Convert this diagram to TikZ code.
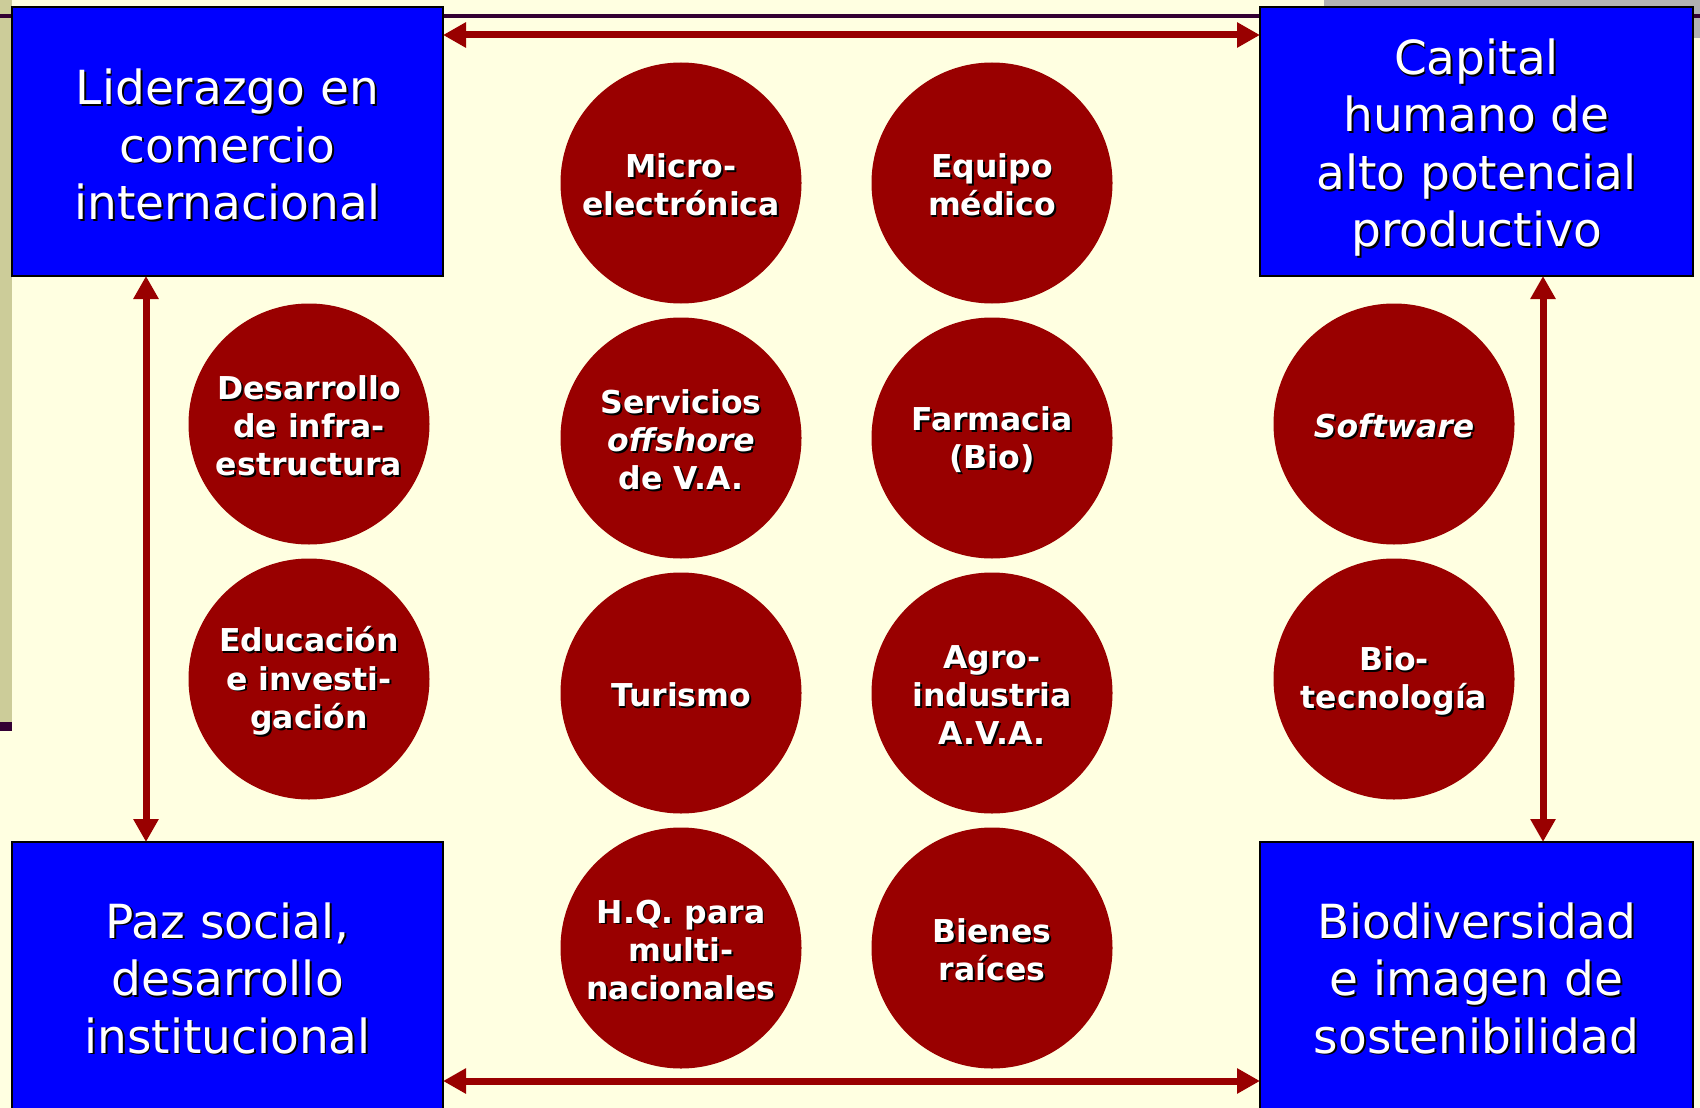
\documentclass[tikz,border=0pt]{standalone}
\usepackage{fontspec}
\setmainfont{DejaVu Sans}
\usetikzlibrary{arrows.meta}
\definecolor{cream}{HTML}{FFFFE1}
\definecolor{khaki}{HTML}{CCCC99}
\definecolor{darkpurple}{HTML}{330033}
\definecolor{greyband}{HTML}{B2B2B2}
\definecolor{wine}{HTML}{990000}
\definecolor{pureblue}{HTML}{0000FF}
\def\lowamt{0pt}
\newcommand\shd[1]{\leavevmode\raisebox{-\lowamt}[\height][\depth]{\rlap{\kern1.8pt\raisebox{-1.8pt}{\color{black}#1}}#1}}
\newcommand\boxfont[1]{\fontsize{47}{57.5}\selectfont\def\lowamt{#1}}
\newcommand\ballfont{\fontsize{31.5}{38.2}\selectfont\bfseries\def\lowamt{2.7pt}}
\tikzset{
  bigbox/.style={rectangle, draw=black, line width=2pt, fill=pureblue, text=white,
    minimum width=431pt, minimum height=269pt, inner sep=0pt, outer sep=0pt,
    align=center, font=\boxfont{4pt}},
  ball/.style={circle, fill=wine, text=white, minimum size=241pt, inner sep=0pt,
    align=center, font=\ballfont},
  link/.style={draw=wine, line width=7pt,
    {Triangle[width=24pt,length=23pt]}-{Triangle[width=24pt,length=23pt]}}
}
\begin{document}
\begin{tikzpicture}[x=1pt,y=-1pt]
\clip (0,0) rectangle (1700,1108);
\fill[cream] (0,0) rectangle (1700,1108);
\fill[khaki] (0,0) rectangle (12,722);
\fill[darkpurple] (0,722) rectangle (12,731);
\fill[greyband] (1324,0) rectangle (1700,14);
\fill[greyband] (1690,0) rectangle (1700,38);
\fill[darkpurple] (0,14) rectangle (1700,18);

\node[bigbox, anchor=north west] (tl) at (12,7)
  {\shd{Liderazgo en}\\\shd{comercio}\\\shd{internacional}};
\node[bigbox, anchor=north west, minimum width=433pt, font=\boxfont{7pt}] (tr) at (1260,7)
  {\shd{Capital}\\\shd{humano de}\\\shd{alto potencial}\\\shd{productivo}};
\node[bigbox, anchor=north west, minimum height=274pt, font=\boxfont{0pt}] (bl) at (12,842)
  {\shd{Paz social,}\\\shd{desarrollo}\\\shd{institucional}};
\node[bigbox, anchor=north west, minimum width=433pt, minimum height=274pt, font=\boxfont{0pt}] (br) at (1260,842)
  {\shd{Biodiversidad}\\\shd{e imagen de}\\\shd{sostenibilidad}};

\node[ball] (micro) at (681,183) {\shd{Micro-}\\\shd{electrónica}};
\node[ball] (equipo) at (992,183) {\shd{Equipo}\\\shd{médico}};
\node[ball] (desarrollo) at (309,424) {\shd{Desarrollo}\\\shd{de infra-}\\\shd{estructura}};
\node[ball] (servicios) at (681,438) {\shd{Servicios}\\\shd{\textit{offshore}}\\\shd{de V.A.}};
\node[ball] (farmacia) at (992,438) {\shd{Farmacia}\\\shd{(Bio)}};
\node[ball] (software) at (1394,424) {\shd{\textit{Software}}};
\node[ball] (educacion) at (309,679) {\shd{Educación}\\\shd{e investi-}\\\shd{gación}};
\node[ball] (turismo) at (681,693) {\shd{Turismo}};
\node[ball] (agro) at (992,693) {\shd{Agro-}\\\shd{industria}\\\shd{A.V.A.}};
\node[ball] (biotec) at (1394,679) {\shd{Bio-}\\\shd{tecnología}};
\node[ball] (hq) at (681,948) {\shd{H.Q. para}\\\shd{multi-}\\\shd{nacionales}};
\node[ball] (bienes) at (992,948) {\shd{Bienes}\\\shd{raíces}};

\draw[link] ([yshift=-28pt]tl.north east) -- ([yshift=-28pt]tr.north west);
\draw[link] ([yshift=-239pt]bl.north east) -- ([yshift=-239pt]br.north west);
\draw[link] ([xshift=134pt]tl.south west) -- ([xshift=134pt]bl.north west);
\draw[link] ([xshift=283pt]tr.south west) -- ([xshift=283pt]br.north west);
\end{tikzpicture}
\end{document}
